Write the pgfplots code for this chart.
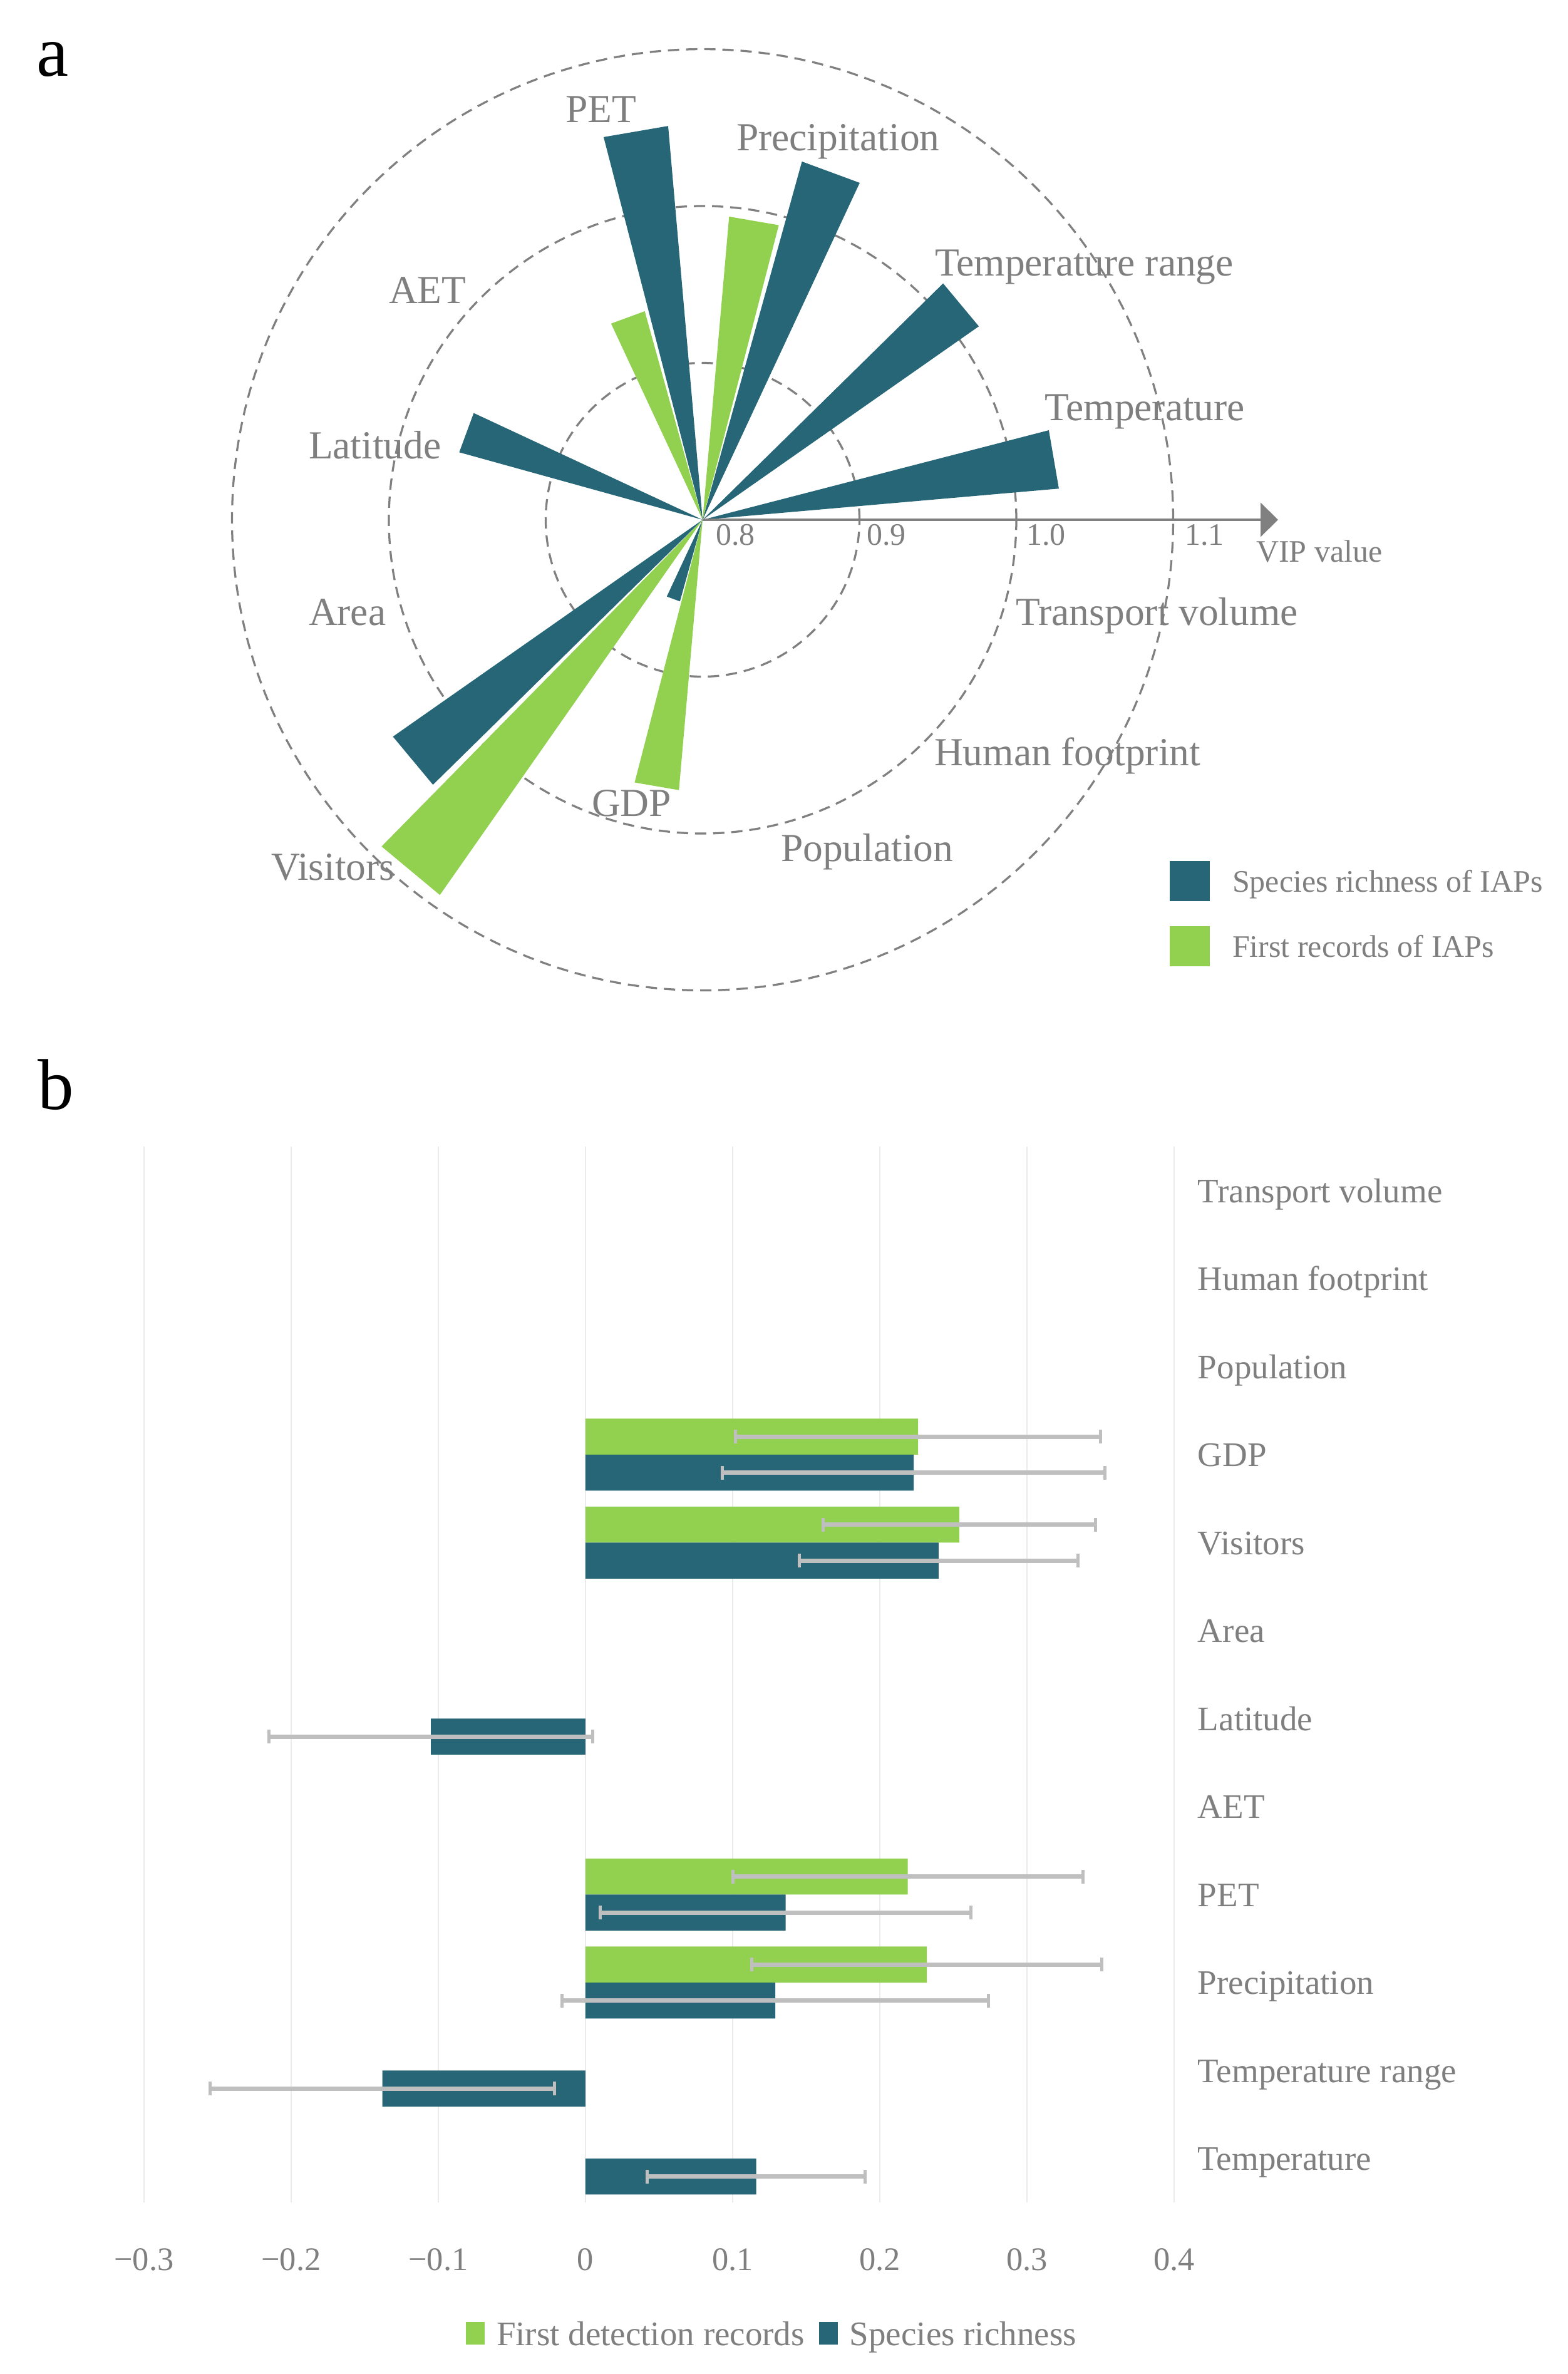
\documentclass[border=0pt]{standalone}
\usepackage{fontspec}
\setmainfont{Liberation Serif}
\usepackage{pgfplots}
\pgfplotsset{compat=1.18}
\usepgfplotslibrary{polar}
\usetikzlibrary{arrows.meta}
\definecolor{dkteal}{HTML}{266677}
\definecolor{ltgreen}{HTML}{92D050}
\definecolor{txtgray}{HTML}{7F7F7F}
\definecolor{circgray}{HTML}{808080}
\definecolor{errgray}{HTML}{BFBFBF}
\definecolor{gridgray}{HTML}{EBEBEB}
\newcommand{\fA}{\fontsize{12.7bp}{15bp}\selectfont}
\newcommand{\fT}{\fontsize{10bp}{12bp}\selectfont}
\newcommand{\fB}{\fontsize{11bp}{13bp}\selectfont}
\newcommand{\fL}{\fontsize{23bp}{26bp}\selectfont}
\pgfplotsset{
  sqA/.style={legend image code/.code={\fill[##1] (0bp,-6.4bp) rectangle (12.8bp,6.4bp); \path (20bp,0bp);}},
  sqB/.style={legend image code/.code={\fill[##1] (0bp,-3.6bp) rectangle (6bp,3.6bp); \path (9.8bp,0bp);}},
}
\begin{document}
\begin{tikzpicture}
\useasboundingbox (0,0) rectangle (500.8bp,-758.2bp);

% ---------------- panel a ----------------
\begin{polaraxis}[
  at={(224.4bp,-166bp)}, anchor=center,
  scale only axis, width=400.8bp, height=400.8bp,
  xmin=0, xmax=360, ymin=0, ymax=0.4,
  y filter/.expression={y-0.8},
  xtick=\empty, ytick={0.1,0.2,0.3}, yticklabels={},
  major tick length=0pt,
  xmajorgrids=false, ymajorgrids=true,
  major grid style={draw=circgray, line width=0.65bp, dash pattern=on 3.6bp off 2.2bp},
  axis line style={draw=none},
  legend style={at={(0.8723,0.228)}, anchor=north west, draw=none, fill=none,
    inner sep=0pt, outer sep=0pt, row sep=8bp, font=\fT, text=txtgray,
    nodes={inner sep=0pt, text depth=0pt}},
  legend cell align=left,
]
% Species richness of IAPs (VIP)
\addplot[draw=none, fill=dkteal, forget plot] coordinates {(0,0.8) (5,1.028) (14.5,1.028)};     % Temperature
\addplot[draw=none, fill=dkteal, forget plot] coordinates {(0,0.8) (35,1.015) (44.5,1.015)};    % Temperature range
\addplot[draw=none, fill=dkteal, forget plot] coordinates {(0,0.8) (65,1.037) (74.5,1.037)};    % Precipitation
\addplot[draw=none, fill=dkteal, forget plot] coordinates {(0,0.8) (95,1.052) (104.5,1.052)};   % PET
\addplot[draw=none, fill=dkteal, forget plot] coordinates {(0,0.8) (155,0.961) (164.5,0.961)};  % Latitude
\addplot[draw=none, fill=dkteal, forget plot] coordinates {(0,0.8) (215,1.041) (224.5,1.041)};  % Visitors
\addplot[draw=none, fill=dkteal, forget plot] coordinates {(0,0.8) (245,0.854) (254.5,0.854)};  % GDP
% First records of IAPs (VIP)
\addplot[draw=none, fill=ltgreen, forget plot] coordinates {(0,0.8) (75.5,0.994) (85,0.994)};   % Precipitation
\addplot[draw=none, fill=ltgreen, forget plot] coordinates {(0,0.8) (105.5,0.938) (115,0.938)}; % PET
\addplot[draw=none, fill=ltgreen, forget plot] coordinates {(0,0.8) (225.5,1.092) (235,1.092)}; % Visitors
\addplot[draw=none, fill=ltgreen, forget plot] coordinates {(0,0.8) (255.5,0.973) (265,0.973)}; % GDP
\addlegendimage{sqA, fill=dkteal, draw=none}
\addlegendentry{Species richness of IAPs}
\addlegendimage{sqA, fill=ltgreen, draw=none}
\addlegendentry{First records of IAPs}
\end{polaraxis}

\draw[circgray, line width=0.9bp, -{Triangle[length=5.6bp,width=10.8bp]}] (224.4bp,-166bp) -- (408.2bp,-166bp);

\begin{scope}[every node/.style={anchor=base west, inner sep=0pt, text=txtgray}]
\node[font=\fA] at (180.4bp,-39.0bp) {PET};
\node[font=\fA] at (235.0bp,-48.0bp) {Precipitation};
\node[font=\fA] at (298.4bp,-88.0bp) {Temperature range};
\node[font=\fA] at (333.4bp,-134.2bp) {Temperature};
\node[font=\fA] at (124.0bp,-96.8bp) {AET};
\node[font=\fA] at (98.4bp,-146.4bp) {Latitude};
\node[font=\fA] at (98.4bp,-199.6bp) {Area};
\node[font=\fA] at (86.4bp,-281.0bp) {Visitors};
\node[font=\fA] at (188.8bp,-260.6bp) {GDP};
\node[font=\fA] at (249.2bp,-275.0bp) {Population};
\node[font=\fA] at (298.2bp,-244.4bp) {Human footprint};
\node[font=\fA] at (324.2bp,-199.6bp) {Transport volume};
\node[font=\fT] at (228.4bp,-174.0bp) {0.8};
\node[font=\fT] at (276.6bp,-174.0bp) {0.9};
\node[font=\fT] at (327.6bp,-174.0bp) {1.0};
\node[font=\fT] at (378.2bp,-174.0bp) {1.1};
\node[font=\fT] at (401.0bp,-179.4bp) {VIP value};
\node[font=\fL, text=black] at (11.6bp,-24.2bp) {a};
\node[font=\fL, text=black] at (12.0bp,-354.2bp) {b};
\end{scope}

% ---------------- panel b ----------------
\begin{axis}[
  at={(46bp,-366.2bp)}, anchor=north west,
  scale only axis, width=329bp, height=337.2bp,
  xmin=-0.3, xmax=0.4, ymin=-0.5, ymax=11.5,
  xtick={-0.3,-0.2,-0.1,0,0.1,0.2,0.3,0.4},
  xticklabels={−0.3,−0.2,−0.1,0,0.1,0.2,0.3,0.4},
  ytick={0,1,2,3,4,5,6,7,8,9,10,11},
  yticklabels={Temperature,Temperature range,Precipitation,PET,AET,Latitude,Area,Visitors,GDP,Population,Human footprint,Transport volume},
  yticklabel pos=right,
  yticklabel style={anchor=west, inner sep=0pt, xshift=7.4bp, font=\fB, text=txtgray, text height=7.5bp, text depth=0pt},
  xticklabel style={anchor=north, inner sep=0pt, yshift=-14.3bp, font=\fontsize{10.5bp}{12bp}\selectfont, text=txtgray, text height=7.1bp, text depth=0pt},
  axis line style={draw=none}, major tick length=0pt,
  xmajorgrids=true, ymajorgrids=false,
  major grid style={draw=gridgray, line width=0.4bp},
  legend style={at={(0.6088,-0.124)}, anchor=center, draw=none, fill=none,
    inner sep=0pt, outer sep=0pt, legend columns=2, font=\fB, text=txtgray,
    nodes={inner sep=0pt, text depth=0pt},
    /tikz/every even column/.append style={column sep=4.6bp}},
]
% First detection records: bar centres 0.2046 above each category
\addplot[xbar, bar width=11.5bp, bar shift=0pt, fill=ltgreen, draw=none, sqB,
  error bars/.cd, x dir=both, x explicit, error mark=|,
  error bar style={draw=errgray, line width=1.4bp},
  error mark options={draw=errgray, line width=1bp, mark size=2.2bp}]
  coordinates {(0.232,2.2046) +- (0.119,0) (0.219,3.2046) +- (0.119,0) (0.254,7.2046) +- (0.0925,0) (0.226,8.2046) +- (0.124,0)};
\addlegendentry{First detection records}
% Species richness: bar centres 0.2046 below each category
\addplot[xbar, bar width=11.5bp, bar shift=0pt, fill=dkteal, draw=none, sqB,
  error bars/.cd, x dir=both, x explicit, error mark=|,
  error bar style={draw=errgray, line width=1.4bp},
  error mark options={draw=errgray, line width=1bp, mark size=2.2bp}]
  coordinates {(0.116,-0.2046) +- (0.074,0) (-0.138,0.7954) +- (0.117,0) (0.129,1.7954) +- (0.145,0) (0.136,2.7954) +- (0.126,0)
               (-0.105,4.7954) +- (0.110,0) (0.240,6.7954) +- (0.0945,0) (0.223,7.7954) +- (0.130,0)};
\addlegendentry{Species richness}
\end{axis}
\end{tikzpicture}
\end{document}
